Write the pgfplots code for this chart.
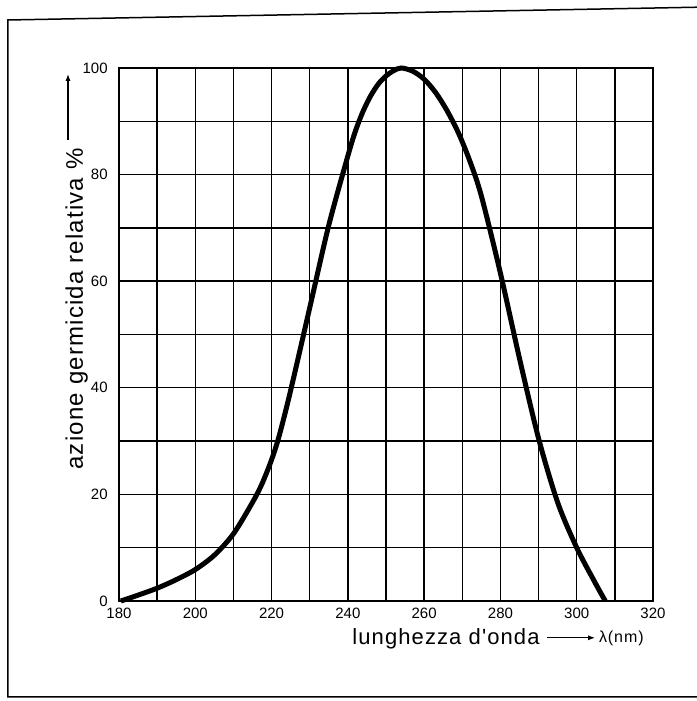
\documentclass[border=0pt]{standalone}
\usepackage{fontspec}
\setmainfont{Liberation Sans}
\newfontfamily\labfont[LetterSpace=5]{Liberation Sans}
\newfontfamily\smfont[LetterSpace=6]{Liberation Sans}
\usepackage{pgfplots}
\pgfplotsset{compat=1.18}
\usetikzlibrary{arrows.meta}
\begin{document}
\begin{tikzpicture}
\useasboundingbox (-59.5pt,-50pt) rectangle (288.5pt,300.5pt);
\begin{axis}[
    at={(0,0)}, anchor=south west,
    scale only axis,
    width=267pt, height=266.5pt,
    xmin=180, xmax=320, ymin=0, ymax=100,
    xtick={180,200,...,320},
    ytick={0,20,...,100},
    minor xtick={190,210,...,310},
    minor ytick={10,30,...,90},
    grid=both,
    major grid style={black, line width=0.7pt},
    minor grid style={black, line width=0.7pt},
    axis line style={black, line width=0.75pt},
    major tick length=0pt, minor tick length=0pt,
    tick style={draw=none},
    ticklabel style={font=\fontsize{7.5}{9}\selectfont, inner sep=0pt},
    xticklabel shift=3.5pt,
    yticklabel shift=5.5pt,
    /pgf/number format/assume math mode=true,
    clip=false
]
% curva dell'azione germicida
\addplot[black, line width=2.5pt, smooth] coordinates {
    (180.5,0) (185,1.1) (190,2.4) (195,4.0) (200,5.9) (205,8.6)
    (210,12.6) (215,18.5) (217.5,22) (220,26.5) (222,31) (225,39.5)
    (230,55) (235,70.5) (240,83.5) (242,88.2) (244,91.9) (246,94.8)
    (248,97) (250,98.5) (252,99.5) (254,100) (257,99.4) (260,97.9)
    (263,95.4) (266,92) (269,87.8) (272,82.5) (275,76) (280,61.5)
    (285,45.5) (290,30.5) (295,18.5) (300,10) (305,3.2) (307.5,0)
};
\end{axis}
% cornice
\draw[line width=0.75pt] (295pt,297pt) -- (-55.5pt,290.5pt) -- (-55.5pt,-48pt) -- (295pt,-48pt);
% etichette degli assi
\node[rotate=90, anchor=base, inner sep=0pt] at (-18pt,146pt)
    {\labfont\fontsize{12}{14}\selectfont azione germicida relativa \%};
\draw[line width=0.55pt, -{Latex[length=3.5pt,width=2.6pt]}] (-25.5pt,230.5pt) -- (-25.5pt,263.5pt);
\node[anchor=base west, inner sep=0pt] at (116.5pt,-22pt)
    {\labfont\fontsize{11}{13}\selectfont lunghezza d'onda};
\draw[line width=0.55pt, -{Latex[length=3.5pt,width=2.6pt]}] (213.9pt,-18.4pt) -- (238pt,-18.4pt);
\node[anchor=base west, inner sep=0pt] at (239.8pt,-20.6pt)
    {\smfont\fontsize{8}{9}\selectfont λ(nm)};
\end{tikzpicture}
\end{document}
